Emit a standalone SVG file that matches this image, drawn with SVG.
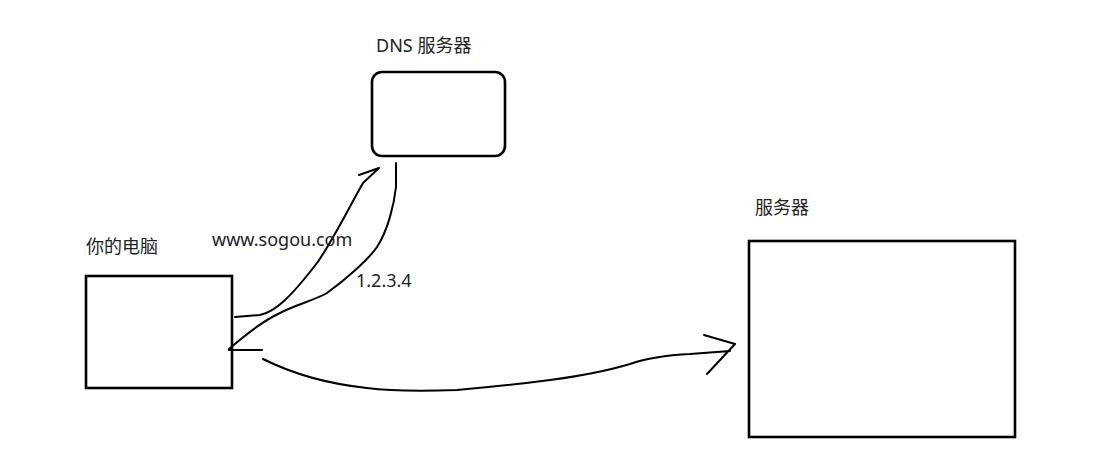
<svg xmlns="http://www.w3.org/2000/svg" width="1107" height="475" viewBox="0 0 1107 475">
<style>
.box{fill:#fff;stroke:#000;stroke-width:2.6}
.ln{fill:none;stroke:#000;stroke-width:2;stroke-linecap:round;stroke-linejoin:round}
.t{font-family:"Noto Sans","Noto Sans CJK SC",sans-serif;font-size:18px;fill:#222}
</style>
<rect width="1107" height="475" fill="#fff"/>
<g id="dns">
<rect class="box" x="372" y="72" width="133" height="84" rx="10"/>
<text class="t" x="376" y="52">DNS 服务器</text>
</g>
<g id="pc">
<rect class="box" x="86" y="276" width="146" height="112"/>
<text class="t" x="86" y="253">你的电脑</text>
</g>
<g id="server">
<rect class="box" x="749" y="241" width="266" height="196"/>
<text class="t" x="755" y="214">服务器</text>
</g>
<g id="connectors">
<path class="ln" d="M235,317 L260,315 C275,312 290,298 317,263 C330,245 345,215 363,183 L379,168 M359,175 L379,168"/>
<path class="ln" d="M396,163 L396,187 C394,205 388,230 377,247 C368,260 345,280 327,293 C315,300 295,305 280,313 C265,320 245,335 229,349 M229,350 L262,350"/>
<path class="ln" d="M263,359 C285,370 320,383 367,388 C390,391 430,391 457,390 C480,388 520,384 550,380 C580,376 610,370 630,364 C650,357 670,355 690,354 L730,351 M704,335 L735,344 L707,374"/>
<text class="t" x="212" y="246">www.sogou.com</text>
<text class="t" x="356" y="287">1.2.3.4</text>
</g>
</svg>
